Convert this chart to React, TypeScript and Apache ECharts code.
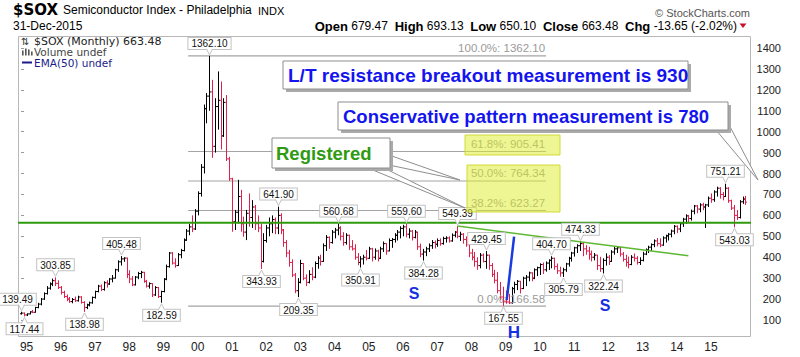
import React, { useEffect, useRef } from 'react';
import * as echarts from 'echarts';

type Bar = [number, number, number, number]; // open, high, low, close

// Monthly bars, first bar = Oct 1994
const y1994: Bar[] = [[130,139.49,126,133],[133,136,117.44,124],[124,132,119,129]];
const y1995: Bar[] = [[129,142,127,139],[139,148,133,137],[137,163,135,160],[160,182,156,176],[176,205,170,200],[200,232,196,226],[226,262,222,252],[252,280,245,272],[272,298,262,288],[288,303.85,262,275],[275,290,248,256],[256,262,222,232]];
const y1996: Bar[] = [[232,240,205,212],[212,222,190,200],[200,210,182,188],[188,205,180,198],[198,212,186,192],[192,216,188,210],[210,214,178,184],[184,190,138.98,160],[160,178,152,172],[172,188,165,182],[182,212,178,208],[208,240,202,236]];
const y1997: Bar[] = [[236,268,232,262],[262,270,238,246],[246,285,240,278],[278,290,255,272],[272,300,268,296],[296,315,280,300],[300,345,298,340],[340,385,330,378],[378,405.48,360,392],[392,400,378,396],[396,398,300,318],[318,338,276,296]];
const y1998: Bar[] = [[296,310,262,268],[268,310,265,305],[305,330,295,322],[322,335,300,328],[328,330,278,285],[285,292,255,262],[262,280,250,274],[274,276,210,220],[220,262,215,255],[255,258,205,212],[212,240,182.59,236],[236,300,232,295]];
const y1999: Bar[] = [[295,365,290,355],[355,425,350,420],[420,425,365,372],[372,395,350,360],[360,420,358,412],[412,440,395,432],[432,490,428,482],[482,535,478,525],[525,560,505,545],[545,600,520,535],[535,630,530,620],[620,715,600,705]];
const y2000: Bar[] = [[705,845,690,830],[830,1130,800,1110],[1110,1185,1040,1170],[1170,1362.10,1100,1190],[1190,1248,875,930],[930,1160,900,1120],[1120,1288,1010,1150],[1150,1240,915,980],[980,1160,975,1140],[1140,1175,860,870],[870,880,765,775],[775,780,522,570]];
const y2001: Bar[] = [[570,626,530,615],[615,770,562,690],[690,722,522,560],[560,594,498,520],[520,626,482,610],[610,705,546,590],[590,673,540,640],[640,650,530,560],[560,600,520,540],[540,560,343.93,380],[380,515,375,480],[480,555,470,540]];
const y2002: Bar[] = [[540,590,500,560],[560,600,515,580],[580,590,510,540],[540,641.90,510,600],[600,610,510,530],[530,535,450,470],[470,482,400,420],[420,435,355,375],[375,390,305,315],[315,325,228,240],[240,300,209.35,280],[280,388,275,370]];
const y2003: Bar[] = [[370,372,290,300],[300,318,262,280],[280,338,275,318],[318,352,290,305],[305,380,300,370],[370,405,345,395],[395,412,360,380],[380,466,378,455],[455,506,430,495],[495,500,440,470],[470,530,465,520],[520,540,490,530]];
const y2004: Bar[] = [[530,560.68,505,540],[540,548,480,500],[500,520,455,470],[470,515,460,505],[505,508,435,450],[450,482,432,440],[440,462,388,400],[400,420,362,375],[375,405,350.91,392],[392,412,365,400],[400,435,385,395],[395,450,392,440]];
const y2005: Bar[] = [[440,445,380,400],[400,442,388,430],[430,436,380,395],[395,450,392,440],[440,475,425,465],[465,468,412,430],[430,490,428,480],[480,492,445,485],[485,515,470,505],[505,530,480,520],[520,548,490,538],[538,555,500,545]];
const y2006: Bar[] = [[545,559.60,495,510],[510,538,490,525],[525,530,480,495],[495,530,490,520],[520,522,435,450],[450,465,400,415],[415,440,384.28,425],[425,450,405,440],[440,466,425,455],[455,482,440,470],[470,480,442,462],[462,490,450,480]];
const y2007: Bar[] = [[480,490,455,465],[465,498,460,490],[490,500,470,492],[492,500,470,478],[478,514,474,505],[505,525,495,520],[520,549.39,490,500],[500,522,478,510],[510,515,465,485],[485,500,450,460],[460,462,400,420],[420,440,385,400]];
const y2008: Bar[] = [[400,425,355,380],[380,400,340,360],[360,420,347,410],[410,418,375,380],[380,429.45,345,410],[410,412,340,360],[360,372,305,318],[318,340,275,290],[290,330,227,240],[240,282,195,210],[210,259,167.55,190],[190,240,178,186]];
const y2009: Bar[] = [[186,225,176,182],[182,258,178,250],[250,283,227,270],[270,291,243,285],[285,287,227,250],[250,307,248,300],[300,315,262,305],[305,331,285,325],[325,328,285,300],[300,347,295,340],[340,355,310,350],[350,371,315,365]];
const y2010: Bar[] = [[365,375,320,340],[340,380,331,372],[372,390,339,385],[385,404.70,347,395],[395,398,340,355],[355,370,320,335],[335,355,307,325],[325,350,305.79,340],[340,373,330,368],[368,402,355,395],[395,426,379,420],[420,450,403,445]];
const y2011: Bar[] = [[445,462,420,455],[455,474.33,430,465],[465,468,405,440],[440,458,412,430],[430,450,388,415],[415,432,380,400],[400,420,385,410],[410,412,339,360],[360,402,330,345],[345,395,322.24,385],[385,419,360,400],[400,410,363,380]];
const y2012: Bar[] = [[380,434,378,425],[425,450,412,440],[440,452,420,445],[445,450,403,415],[415,425,379,390],[390,412,355,375],[375,403,347,365],[365,410,362,400],[400,418,380,395],[395,405,365,375],[375,400,363,385],[385,426,380,415]];
const y2013: Bar[] = [[415,442,410,435],[435,455,420,448],[448,466,430,460],[460,485,448,478],[478,492,452,465],[465,490,448,458],[458,500,455,492],[492,508,470,502],[502,516,480,510],[510,532,495,525],[525,554,510,548],[548,552,515,535]];
const y2014: Bar[] = [[535,565,520,560],[560,588,545,582],[582,605,560,598],[598,602,565,585],[585,628,575,620],[620,650,605,645],[645,650,610,630],[630,658,615,650],[650,660,625,640],[640,655,540,650],[650,690,640,682],[682,705,660,675]];
const y2015: Bar[] = [[675,720,665,712],[712,737,690,730],[730,735,680,700],[700,712,672,690],[690,751.21,688,730],[730,735,660,670],[670,675,626,635],[635,650,543.03,600],[600,626,578,590],[590,673,585,665],[665,690,655,677.13],[679.47,693.13,650.10,663.48]];

const yearBlocks: Bar[][] = [y1994,y1995,y1996,y1997,y1998,y1999,y2000,y2001,y2002,y2003,y2004,y2005,y2006,y2007,y2008,y2009,y2010,y2011,y2012,y2013,y2014,y2015];
const startYear = 1994;
const startMonth = 9; // October

const yTickValues = [100,200,300,400,500,600,700,800,900,1000,1100,1200,1300,1400];

// annotated highs (box above) and lows (box below)
const highLabels = [139.49, 303.85, 405.48, 1362.10, 641.90, 560.68, 559.60, 549.39, 429.45, 404.70, 474.33, 751.21];
const lowLabels = [117.44, 138.98, 182.59, 343.93, 209.35, 350.91, 384.28, 167.55, 305.79, 322.24, 543.03];
const labelShift: Record<string, number> = { '139.49': -4 };

// Fibonacci retracement
const fibHigh = 1362.10;
const fibLow = 166.58;
const fibRatios = [1, 0.618, 0.5, 0.382, 0];
const fibFrom = 58.6;
const fibTo = 184.1;

const supportLevel = 565;
const trendLine = [[153, 549.39], [234, 407]];
const headLine = [[170.3, 195], [172.9, 498]];

const xMin = -1.052, xMax = 255.96, yMin = 18.75, yMax = 1457.35;

const SANS = '"Liberation Sans", Arial, Helvetica, sans-serif';
const DJ = '"DejaVu Sans", Verdana, sans-serif';

export default function App() {
  const ref = useRef<HTMLDivElement>(null);
  useEffect(() => {
    const chart = echarts.init(ref.current as HTMLDivElement, null, { renderer: 'svg' });
    const bars: Bar[] = yearBlocks.flat();
    const ohlcData = bars.map((b, i) => {
      const prev = i > 0 ? bars[i - 1][3] : b[0];
      return [i, b[0], b[1], b[2], b[3], b[3] >= prev ? 1 : 0];
    });
    const janIdx: number[] = [];
    for (let i = 0; i < bars.length; i++) if ((startMonth + i) % 12 === 0) janIdx.push(i);
    const yearOf = (i: number) => startYear + Math.floor((startMonth + i) / 12);

    const labelData: number[][] = [];
    highLabels.forEach(v => {
      const idx = bars.findIndex(b => b[1] === v);
      labelData.push([idx, v, 1, labelShift[v.toFixed(2)] || 0]);
    });
    lowLabels.forEach(v => {
      const idx = bars.findIndex(b => b[2] === v);
      labelData.push([idx, v, -1, labelShift[v.toFixed(2)] || 0]);
    });

    const fibLevels = fibRatios.map(r => fibLow + (fibHigh - fibLow) * r);

    const lineSeries = (data: number[][], color: string, width: number, z: number) => ({
      type: 'line', data, symbol: 'none', silent: true, z,
      lineStyle: { color, width }, animation: false,
    });

    const gray = '#8e8e8e';
    const blue = '#1414ee';
    const green = '#2f9a12';

    const boxWithShadow = (x: number, y: number, w: number, h: number) => ([
      { type: 'rect', z: 20, shape: { x: x + 3, y: y + 3, width: w, height: h }, style: { fill: '#aaaaaa' } },
      { type: 'rect', z: 21, shape: { x, y, width: w, height: h }, style: { fill: '#ffffff', stroke: gray, lineWidth: 1 } },
    ]);
    const tail = (pts: number[][]) => ({ type: 'polygon', z: 19, shape: { points: pts }, style: { fill: '#ffffff', stroke: gray, lineWidth: 1 } });
    const txt = (x: number, y: number, text: string, style: any, z = 22) => ({
      type: 'text', x, y, z, style: { text, verticalAlign: 'middle', ...style },
    });

    const option: any = {
      animation: false,
      backgroundColor: '#ffffff',
      grid: { left: 18, right: 49, top: 36, bottom: 20 },
      xAxis: {
        type: 'value', min: xMin, max: xMax,
        splitLine: { show: false }, axisLine: { show: false }, axisTick: { show: false },
        axisLabel: {
          customValues: janIdx,
          formatter: (v: number) => String(yearOf(Math.round(v)) % 100).padStart(2, '0'),
          fontFamily: SANS, fontSize: 12, color: '#222', margin: 4, padding: [0, 6, 0, 0],
        },
      },
      yAxis: {
        type: 'value', position: 'right', min: yMin, max: yMax,
        splitLine: { show: false }, axisLine: { show: false },
        axisTick: { show: true, length: 3, customValues: yTickValues, lineStyle: { color: '#999' } },
        axisLabel: {
          customValues: yTickValues, formatter: (v: number) => String(v),
          fontFamily: SANS, fontSize: 11, color: '#222', margin: 30, align: 'right',
        },
      },
      series: [
        ...fibLevels.map(l => lineSeries([[fibFrom, l], [fibTo, l]], '#a4a4a4', 1.2, 1)),
        {
          type: 'custom', z: 4, silent: true, clip: false,
          data: fibRatios.map((r, k) => [fibTo, fibLevels[k], r]),
          renderItem: (params: any, api: any) => {
            const p = api.coord([api.value(0), api.value(1)]);
            const r = api.value(2);
            return {
              type: 'text', x: p[0] - 1, y: p[1] - 1.5,
              style: {
                text: `${(r * 100).toFixed(1)}%: ${api.value(1).toFixed(2)}`,
                fontFamily: SANS, fontSize: 11.5, fill: '#9a9a9a', align: 'right', verticalAlign: 'bottom',
              },
            };
          },
        },
        {
          type: 'custom', z: 2, silent: true, clip: false,
          encode: { x: 0, y: [1, 2, 3, 4] },
          data: ohlcData,
          renderItem: (params: any, api: any) => {
            const i = api.value(0);
            const pH = api.coord([i, api.value(2)]);
            const pL = api.coord([i, api.value(3)]);
            const pO = api.coord([i, api.value(1)]);
            const pC = api.coord([i, api.value(4)]);
            const x = Math.round(pH[0]) + 0.5;
            const color = api.value(5) ? '#000000' : '#e0204c';
            const st = { stroke: color, lineWidth: 1 };
            return {
              type: 'group', children: [
                { type: 'line', shape: { x1: x, y1: pH[1], x2: x, y2: pL[1] }, style: st },
                { type: 'line', shape: { x1: x - 1.5, y1: pO[1], x2: x, y2: pO[1] }, style: st },
                { type: 'line', shape: { x1: x, y1: pC[1], x2: x + 1.5, y2: pC[1] }, style: st },
              ],
            };
          },
        },
        lineSeries([[xMin, supportLevel], [xMax, supportLevel]], '#2e9a0c', 2, 3),
        lineSeries(trendLine, '#5db833', 1.5, 3),
        lineSeries(headLine, '#1a3be0', 2.5, 3),
        {
          type: 'custom', z: 5, silent: true, clip: false,
          data: labelData,
          renderItem: (params: any, api: any) => {
            const v = api.value(1);
            const dir = api.value(2);
            const dx = api.value(3);
            const p = api.coord([api.value(0), v]);
            const px = Math.round(p[0]) + 0.5;
            const py = p[1];
            const gap = 7;
            const by = dir > 0 ? py - gap : py + gap;
            const tip = dir > 0 ? py - 1 : py + 1;
            const inset = dir > 0 ? -0.6 : 0.6;
            return {
              type: 'group', children: [
                {
                  type: 'text', x: px + dx, y: by,
                  style: {
                    text: v.toFixed(2), fontFamily: SANS, fontSize: 10, fill: '#111',
                    align: 'center', verticalAlign: dir > 0 ? 'bottom' : 'top',
                    backgroundColor: '#ffffff', borderColor: '#c2c2c2', borderWidth: 1,
                    padding: [1, 3, 0, 3],
                  },
                },
                { type: 'polygon', shape: { points: [[px - 3, by + inset], [px, tip], [px + 3, by + inset]] }, style: { fill: '#ffffff' } },
                { type: 'polyline', shape: { points: [[px - 3, by], [px, tip], [px + 3, by]] }, style: { stroke: '#c2c2c2', fill: null, lineWidth: 1 } },
              ],
            };
          },
        },
      ],
      graphic: {
        elements: [
          { type: 'rect', z: 1, silent: true, shape: { x: 18.5, y: 36.5, width: 732, height: 300 }, style: { fill: 'none', stroke: '#b8b8b8', lineWidth: 1 } },
          // header
          txt(13, 9.5, '$SOX', { fontFamily: DJ, fontWeight: 'bold', fontSize: 15, fill: '#000' }),
          txt(63, 10, 'Semiconductor Index - Philadelphia', { fontFamily: SANS, fontSize: 12, fill: '#000' }),
          txt(258, 10.5, 'INDX', { fontFamily: SANS, fontSize: 11, fill: '#000' }),
          txt(13, 25.5, '31-Dec-2015', { fontFamily: SANS, fontSize: 12, fill: '#000' }),
          txt(750, 12.5, '© StockCharts.com', { fontFamily: SANS, fontSize: 11, fill: '#555', align: 'right' }),
          txt(737, 26, '{b|Open} {v|679.47}  {b|High} {v|693.13}  {b|Low} {v|650.10}  {b|Close} {v|663.48}  {b|Chg} {v|-13.65 (-2.02%)}', {
            fontFamily: SANS, fontSize: 12, fill: '#000', align: 'right',
            rich: {
              b: { fontFamily: SANS, fontWeight: 'bold', fontSize: 13, fill: '#000' },
              v: { fontFamily: SANS, fontSize: 12, fill: '#000' },
            },
          }),
          { type: 'polygon', z: 22, shape: { points: [[739.5, 23.5], [746.5, 23.5], [743, 28]] }, style: { fill: '#c8102e' } },
          // legend
          txt(21, 41, '⇅', { fontFamily: DJ, fontSize: 10, lineHeight: 10, fill: '#333' }),
          txt(34, 41, '$SOX (Monthly) 663.48', { fontFamily: DJ, fontSize: 11, lineHeight: 10, fill: '#222' }),
          { type: 'rect', z: 22, shape: { x: 22, y: 50.5, width: 1.6, height: 5 }, style: { fill: '#555' } },
          { type: 'rect', z: 22, shape: { x: 25, y: 48.5, width: 1.6, height: 7 }, style: { fill: '#555' } },
          { type: 'rect', z: 22, shape: { x: 28, y: 49.5, width: 1.6, height: 6 }, style: { fill: '#555' } },
          { type: 'rect', z: 22, shape: { x: 31, y: 51.5, width: 1.6, height: 4 }, style: { fill: '#555' } },
          txt(34, 52, 'Volume undef', { fontFamily: DJ, fontSize: 10.5, lineHeight: 10, fill: '#444' }),
          { type: 'line', z: 22, shape: { x1: 22, y1: 62.5, x2: 32, y2: 62.5 }, style: { stroke: '#1a1a8c', lineWidth: 2 } },
          txt(34, 62.5, 'EMA(50) undef', { fontFamily: DJ, fontSize: 10.5, lineHeight: 10, fill: '#1a1a8c' }),
          // fib highlight boxes
          { type: 'rect', z: 6, silent: true, shape: { x: 465, y: 135, width: 95, height: 20 }, style: { fill: 'rgba(222,236,40,0.5)', stroke: 'rgba(205,215,40,0.9)', lineWidth: 1 } },
          { type: 'rect', z: 6, silent: true, shape: { x: 467, y: 165, width: 93, height: 47 }, style: { fill: 'rgba(222,236,40,0.5)', stroke: 'rgba(205,215,40,0.9)', lineWidth: 1 } },
          // callouts
          tail([[389, 155], [460, 180], [389, 165]]),
          tail([[368, 168], [465, 208], [384, 168]]),
          tail([[716, 130], [758, 180], [727, 121]]),
          ...boxWithShadow(283, 61, 405, 28),
          txt(288, 75.5, 'L/T resistance breakout measurement is 930', { fontFamily: SANS, fontWeight: 'bold', fontSize: 19, fill: blue }),
          ...boxWithShadow(338, 102, 390, 28),
          txt(343, 116.5, 'Conservative pattern measurement is 780', { fontFamily: SANS, fontWeight: 'bold', fontSize: 18.5, fill: blue }),
          ...boxWithShadow(272, 138, 118, 30),
          txt(276, 153.5, 'Registered', { fontFamily: SANS, fontWeight: 'bold', fontSize: 18.5, fill: green }),
          // head & shoulders marks
          txt(414, 293, 'S', { fontFamily: SANS, fontWeight: 'bold', fontSize: 16, fill: '#1530e0', align: 'center' }),
          txt(605, 305, 'S', { fontFamily: SANS, fontWeight: 'bold', fontSize: 16, fill: '#1530e0', align: 'center' }),
          txt(514, 332, 'H', { fontFamily: SANS, fontWeight: 'bold', fontSize: 17, fill: '#1530e0', align: 'center' }),
        ],
      },
    };
    chart.setOption(option);
    return () => chart.dispose();
  }, []);
  return <div ref={ref} style={{ position: 'fixed', left: 0, top: 0, width: 800, height: 357, background: '#fff' }} />;
}
